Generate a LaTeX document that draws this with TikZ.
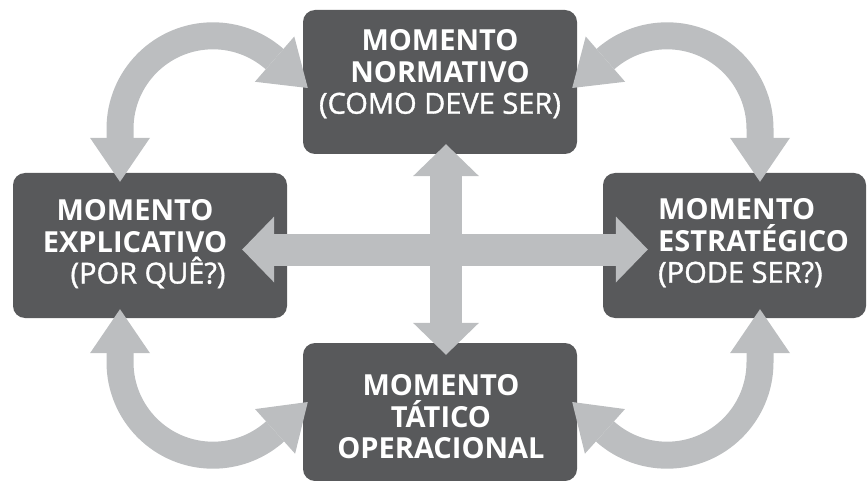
\documentclass[tikz,border=0pt]{standalone}
\usepackage{fontspec}
\setmainfont{Open Sans}
\usetikzlibrary{arrows.meta,calc}
\definecolor{boxgray}{HTML}{58595B}
\definecolor{arrgray}{HTML}{BCBEC0}
\tikzset{
  mbox/.style={fill=boxgray, draw=none, rounded corners=12pt, inner sep=0pt},
  mtext/.style={text=white, inner sep=0pt, font=\fontsize{29}{31.5}\selectfont\bfseries},
  carrow/.style={arrgray, line width=27pt,
    {Triangle[width=60pt,length=44pt,line width=0pt]}-{Triangle[width=60pt,length=44pt,line width=0pt]}},
  xarrow/.style={arrgray, line width=32pt,
    {Triangle[width=66pt,length=32pt,line width=0pt]}-{Triangle[width=66pt,length=32pt,line width=0pt]}}
}
\newcommand{\subl}[1]{{\mdseries\addfontfeature{FakeBold=1.2}#1}}
\begin{document}
\begin{tikzpicture}[x=1pt,y=-1pt]
\useasboundingbox (0,0) rectangle (867,481);
% boxes
\node[mbox, minimum width=274pt, minimum height=144pt] (T) at (440,82) {};
\node[mbox, minimum width=274pt, minimum height=145pt] (L) at (150,245.5) {};
\node[mbox, minimum width=263pt, minimum height=145pt] (R) at (734.5,245.5) {};
\node[mbox, minimum width=274pt, minimum height=138pt] (B) at (440,412) {};
% curved arrows
\draw[carrow] ($(L.north)+(-30,9)$) -- ++(0,-53)
  arc[start angle=180, end angle=310, radius=93] -- ($(T.west)+(5,6)$);
\draw[carrow] ($(R.north)+(25.5,9)$) -- ++(0,-53)
  arc[start angle=0, end angle=-130, radius=93] -- ($(T.east)+(-5,6)$);
\draw[carrow] ($(L.south)+(-30,-9)$) -- ++(0,53)
  arc[start angle=180, end angle=50, radius=93] -- ($(B.west)+(5,-10)$);
\draw[carrow] ($(R.south)+(25.5,-9)$) -- ++(0,53)
  arc[start angle=0, end angle=130, radius=93] -- ($(B.east)+(-5,-10)$);
% cross arrows
\draw[xarrow] ($(T.south)+(6,-10)$) -- ($(B.north)+(6,12)$);
\draw[xarrow] ($(L.east)+(-45,4)$) -- ($(R.west)+(45,4)$);
% texts
\node[mtext, align=center] (Tt) at (440,74) {MOMENTO\\NORMATIVO\\\subl{(COMO DEVE SER)}};
\node[mtext, align=center] (Lt) at (135,244) {MOMENTO\\EXPLICATIVO\\\hspace*{26pt}\subl{(POR QUÊ?)}};
\node[mtext, align=left, anchor=west] (Rt) at (658,243) {MOMENTO\\ESTRATÉGICO\\\subl{(PODE SER?)}};
\node[mtext, align=center] (Bt) at (441,417) {MOMENTO\\TÁTICO\\OPERACIONAL};
\end{tikzpicture}
\end{document}
